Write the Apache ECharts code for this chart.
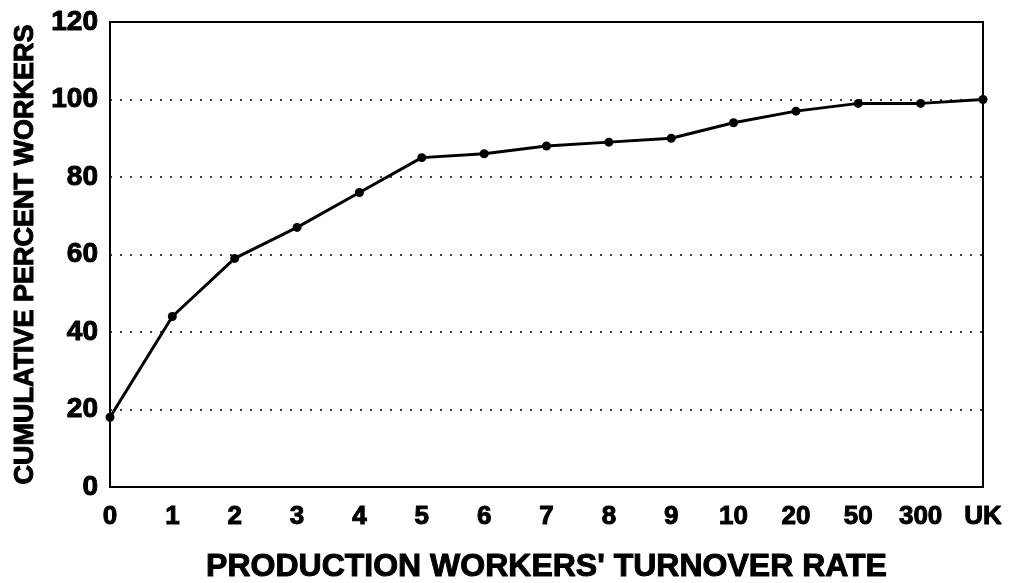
<!DOCTYPE html>
<html>
<head>
<meta charset="utf-8">
<script src="https://cdn.jsdelivr.net/npm/echarts@6/dist/echarts.min.js"></script>
<style>
  html, body { margin: 0; padding: 0; background: #fff; }
  #chart { width: 1013px; height: 583px; }
</style>
</head>
<body>
<div id="chart"></div>
<script>
const turnoverRates = ["0", "1", "2", "3", "4", "5", "6", "7", "8", "9", "10", "20", "50", "300", "UK"];
const cumulativePercent = [18, 44, 59, 67, 76, 85, 86, 88, 89, 90, 94, 97, 99, 99, 100];

const font = "'Liberation Sans', Arial, sans-serif";
// heavier strokes, the scan uses a very bold face
const heavy = { color: "#000", fontFamily: font, fontWeight: "bold", textBorderColor: "#000", textBorderWidth: 1 };

const chart = echarts.init(document.getElementById("chart"));
chart.setOption({
  backgroundColor: "#fff",
  animation: false,
  grid: {
    left: 110,
    right: 30,
    top: 22,
    bottom: 96,
    outerBoundsMode: "none",
    show: true,
    borderColor: "#000",
    borderWidth: 2,
  },
  xAxis: {
    type: "category",
    data: turnoverRates,
    boundaryGap: false,
    name: "PRODUCTION WORKERS' TURNOVER RATE",
    nameLocation: "middle",
    nameGap: 64,
    nameTextStyle: { ...heavy, fontSize: 32 },
    axisLine: { lineStyle: { color: "#000", width: 2 } },
    axisTick: { show: false },
    axisLabel: { ...heavy, fontSize: 26, margin: 17 },
    splitLine: { show: false },
  },
  yAxis: {
    type: "value",
    min: 0,
    max: 120,
    interval: 20,
    name: "CUMULATIVE PERCENT WORKERS",
    nameLocation: "middle",
    nameGap: 68,
    nameTextStyle: { ...heavy, fontSize: 27 },
    axisLine: { show: true, lineStyle: { color: "#000", width: 2 } },
    axisTick: { show: false },
    axisLabel: { ...heavy, fontSize: 28, margin: 12 },
    splitLine: { show: true, lineStyle: { color: "#000", type: [2, 8], width: 1.5 } },
  },
  series: [
    {
      type: "line",
      data: cumulativePercent,
      symbol: "circle",
      symbolSize: 9,
      lineStyle: { color: "#000", width: 3 },
      itemStyle: { color: "#000" },
    },
  ],
});
</script>
</body>
</html>
